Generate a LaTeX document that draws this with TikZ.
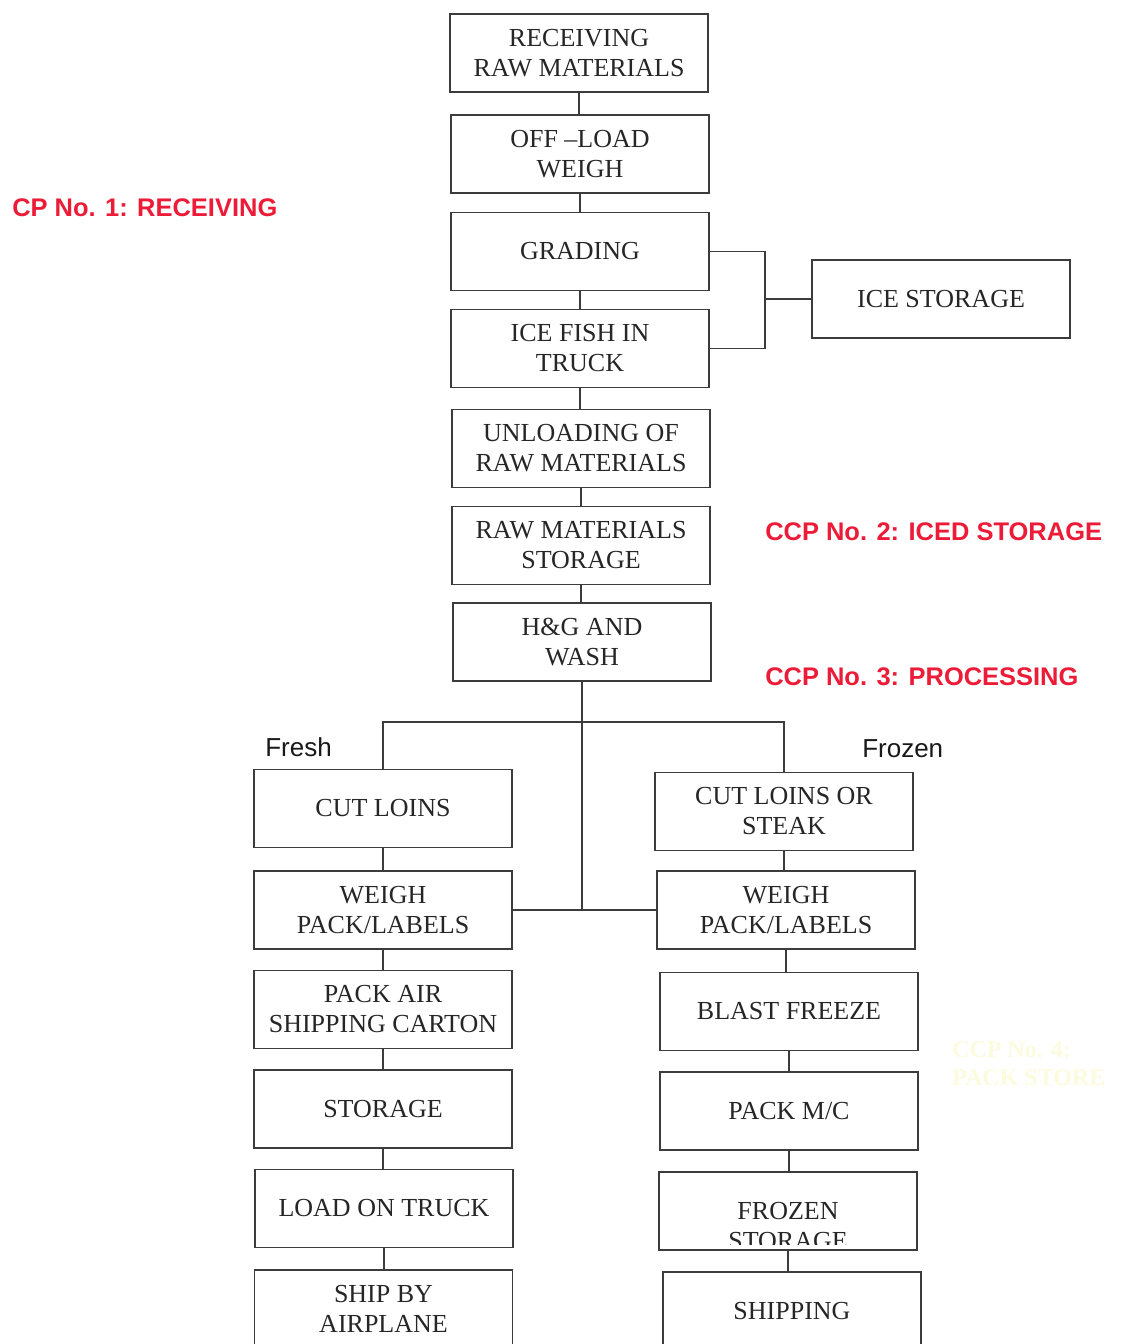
\documentclass[tikz,border=0pt]{standalone}
\usepackage{fontspec}
\setmainfont{Liberation Serif}
\newfontfamily\arialfont{Liberation Sans}
\definecolor{ccpred}{RGB}{236,28,56}
\definecolor{ln}{RGB}{60,60,60}
\definecolor{faint}{RGB}{252,251,222}
\begin{document}
\begin{tikzpicture}[x=0.75pt,y=-0.75pt,
 box/.style={draw=ln,line width=1.4pt,minimum width=193.5pt,minimum height=58.5pt,align=center,inner sep=0pt,font=\fontsize{19.5}{22.5}\selectfont,text=black!85},
 boxtext/.style={align=center,inner sep=0pt,font=\fontsize{19.5}{22.5}\selectfont,text=black!85},
 conn/.style={draw=ln,line width=1.3pt},
 ccp/.style={font=\arialfont\bfseries\fontsize{19.1}{22}\selectfont,text=ccpred,anchor=west,inner sep=0pt},
 lab/.style={font=\arialfont\fontsize{19.5}{22}\selectfont,text=black!90,anchor=west,inner sep=0pt},
 ghost/.style={font=\bfseries\fontsize{18}{21}\selectfont,text=faint,anchor=west,inner sep=0pt,align=left}]
\useasboundingbox (0,0) rectangle (1120,1344);
\clip (0,0) rectangle (1120,1344);
\fill[white] (0,0) rectangle (1120,1344);

% main column
\node[box] (recv) at (579,53) {RECEIVING\\RAW MATERIALS};
\node[box] (off)  at (580,154) {OFF \textendash LOAD\\WEIGH};
\node[box] (grad) at (580,251.5) {GRADING};
\node[box] (ice)  at (580,348.5) {ICE FISH IN\\TRUCK};
\node[box] (unl)  at (581,448.5) {UNLOADING OF\\RAW MATERIALS};
\node[box] (rms)  at (581,545.5) {RAW MATERIALS\\STORAGE};
\node[box] (hg)   at (582,642) {H\&G AND\\WASH};
\node[box] (ices) at (941,299) {ICE STORAGE};

% fresh column
\node[box] (cutL)   at (383,808.5) {CUT LOINS};
\node[box] (weighL) at (383,910) {WEIGH\\PACK/LABELS};
\node[box] (packL)  at (383,1009.5) {PACK AIR\\SHIPPING CARTON};
\node[box] (storL)  at (383,1109) {STORAGE};
\node[box] (loadL)  at (384,1208.5) {LOAD ON TRUCK};
\node[box] (shipL)  at (383.5,1309) {SHIP BY\\AIRPLANE};

% frozen column
\node[box] (cutR)   at (784,811.5) {CUT LOINS OR\\STEAK};
\node[box] (weighR) at (786,910) {WEIGH\\PACK/LABELS};
\node[box] (blast)  at (789,1011.5) {BLAST FREEZE};
\node[box] (packmc) at (789,1111) {PACK M/C};
\node[box] (frozen) at (788,1211) {};
\begin{scope}
\clip ([xshift=1pt,yshift=5pt]frozen.south west) rectangle (frozen.north east);
\node[boxtext] (frozentxt) at (788,1226) {FROZEN\\STORAGE};
\end{scope}
\node[box] (shipR)  at (792,1311) {SHIPPING};

% labels
\node[ccp] (ccp1) at (12,208) {CP No. 1: RECEIVING};
\node[ccp] (ccp2) at (765,532) {CCP No. 2: ICED STORAGE};
\node[ccp] (ccp3) at (765,677) {CCP No. 3: PROCESSING};
\node[lab] (fresh) at (265,747) {Fresh};
\node[lab] (frz) at (862,749) {Frozen};
\node[ghost] (ccp4) at (952,1064) {CCP No. 4:\\PACK STORE};

% connectors main column
\draw[conn] (recv.south) -- (recv.south |- off.north);
\draw[conn] (off.south) -- (off.south |- grad.north);
\draw[conn] (grad.south) -- (grad.south |- ice.north);
\draw[conn] (ice.south) -- (ice.south |- unl.north);
\draw[conn] (unl.south) -- (unl.south |- rms.north);
\draw[conn] (rms.south) -- (rms.south |- hg.north);
\coordinate (b) at (765,299);
\draw[conn] (grad.east) -| (b) |- (ice.east);
\draw[conn] (b) -- (ices.west);

% split
\coordinate (j1) at (582,722);
\draw[conn] (hg.south) -- (hg.south |- weighL.east);
\draw[conn] (cutL.north) -- (cutL.north |- j1) -| (cutR.north);
\draw[conn] (weighL.east) -- (weighR.west);

% fresh connectors
\draw[conn] (cutL.south) -- (cutL.south |- weighL.north);
\draw[conn] (weighL.south) -- (weighL.south |- packL.north);
\draw[conn] (packL.south) -- (packL.south |- storL.north);
\draw[conn] (storL.south) -- (storL.south |- loadL.north);
\draw[conn] (loadL.south) -- (loadL.south |- shipL.north);

% frozen connectors
\draw[conn] (cutR.south) -- (cutR.south |- weighR.north);
\draw[conn] (weighR.south) -- (weighR.south |- blast.north);
\draw[conn] (blast.south) -- (blast.south |- packmc.north);
\draw[conn] (packmc.south) -- (packmc.south |- frozen.north);
\draw[conn] (frozen.south) -- (frozen.south |- shipR.north);
\end{tikzpicture}
\end{document}
